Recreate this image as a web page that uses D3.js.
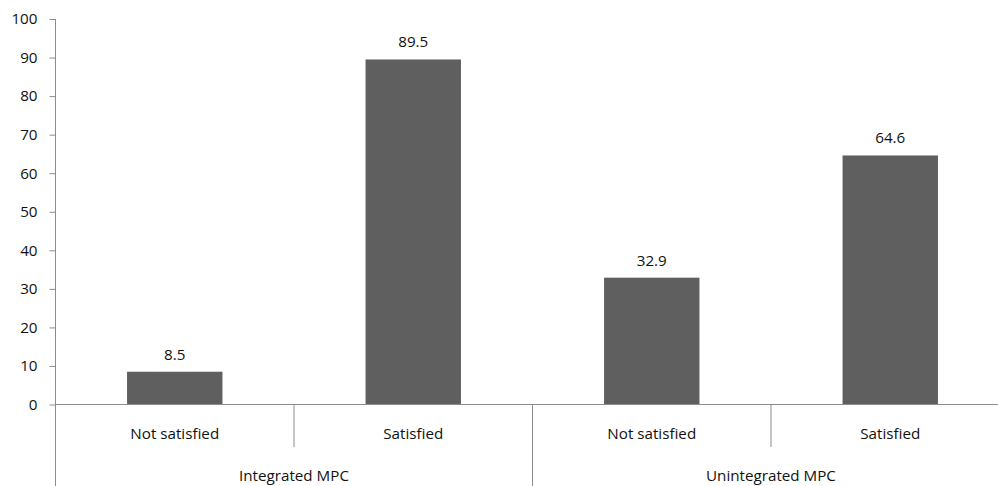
<!DOCTYPE html>
<html><head><meta charset="utf-8">
<script src="https://cdn.jsdelivr.net/npm/d3@7/dist/d3.min.js"></script>
<style>
body{margin:0;background:#fff;}
text{font-family:"Open Sans",sans-serif;}
</style></head>
<body><svg id="c" width="998" height="486"></svg>
<script>
const categories = ["Not satisfied","Satisfied","Not satisfied","Satisfied"];
const groups = ["Integrated MPC","Unintegrated MPC"];
const values = [8.5, 89.5, 32.9, 64.6];
const yTicks = [0,10,20,30,40,50,60,70,80,90,100];

const svg = d3.select("#c");
const axisColor = "#8c8c8c";
const fs = "15.2px";
const left = 55.5, right = 1009.5, y0 = 404.5, yTop = 19;
const x = d3.scaleBand().domain(d3.range(categories.length)).range([left,right]).paddingInner(0.6).paddingOuter(0.3);
const y = d3.scaleLinear().domain([0,100]).range([y0,yTop]);
const step = x.step();

// bars
svg.append("g").selectAll("rect").data(values).join("rect")
  .attr("x",(d,i)=>x(i)).attr("width",x.bandwidth())
  .attr("y",d=>y(d)).attr("height",d=>y(0)-y(d))
  .attr("fill","#5f5f5f");

// value labels
svg.append("g").selectAll("text").data(values).join("text")
  .attr("x",(d,i)=>x(i)+x.bandwidth()/2).attr("y",d=>y(d)-12)
  .attr("text-anchor","middle").attr("font-size",fs).attr("fill","#111")
  .text(d=>d.toFixed(1));

// y axis
const ya = svg.append("g").attr("transform",`translate(${left},0)`)
  .call(d3.axisLeft(y).tickValues(yTicks).tickSize(6).tickPadding(12).tickFormat(d3.format("d")));
ya.select(".domain").remove();
ya.selectAll(".tick line").attr("stroke",axisColor);
ya.selectAll(".tick text").attr("font-size",fs).attr("fill","#111").style("font-family","Open Sans");
svg.append("line").attr("x1",left).attr("x2",left).attr("y1",yTop).attr("y2",486).attr("stroke",axisColor);

// x axis
svg.append("line").attr("x1",left).attr("x2",998).attr("y1",y0).attr("y2",y0).attr("stroke",axisColor);
// dividers
const bounds = d3.range(categories.length+1).map(i=>left+i*step);
bounds.forEach((b,i)=>{
  const long = i%2===0;
  svg.append("line").attr("x1",b).attr("x2",b).attr("y1",y0).attr("y2",long?486:447).attr("stroke",axisColor);
});
// category labels
svg.append("g").selectAll("text").data(categories).join("text")
  .attr("x",(d,i)=>x(i)+x.bandwidth()/2).attr("y",438.5)
  .attr("text-anchor","middle").attr("font-size",fs).attr("fill","#111").text(d=>d);
// group labels
svg.append("g").selectAll("text").data(groups).join("text")
  .attr("x",(d,i)=>left+step*(2*i+1)).attr("y",481)
  .attr("text-anchor","middle").attr("font-size",fs).attr("fill","#111").text(d=>d);
</script></body></html>
